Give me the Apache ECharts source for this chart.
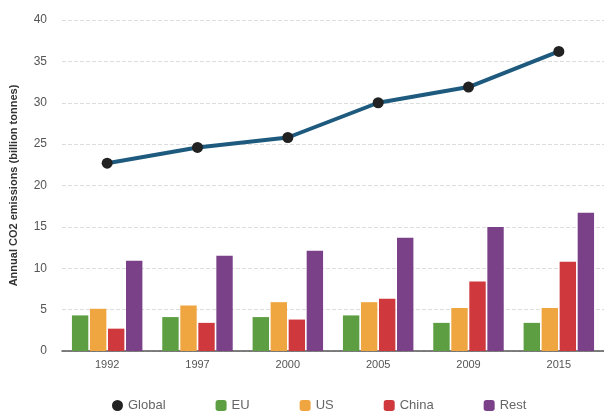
<!DOCTYPE html>
<html>
<head>
<meta charset="utf-8">
<script src="https://cdn.jsdelivr.net/npm/echarts@6/dist/echarts.min.js"></script>
<style>
  html, body { margin: 0; padding: 0; background: #fff; }
  #chart { width: 604px; height: 412px; }
</style>
</head>
<body>
<div id="chart"></div>
<script>
// 年份与各地区排放（十亿吨）
const years = ['1992', '1997', '2000', '2005', '2009', '2015'];
const globalVals = [22.7, 24.6, 25.8, 30.0, 31.9, 36.2];
const euVals = [4.3, 4.1, 4.1, 4.3, 3.4, 3.4];
const usVals = [5.1, 5.5, 5.9, 5.9, 5.2, 5.2];
const chinaVals = [2.7, 3.4, 3.8, 6.3, 8.4, 10.8];
const restVals = [10.9, 11.5, 12.1, 13.7, 15.0, 16.7];
const yTicks = [0, 5, 10, 15, 20, 25, 30, 35, 40];

(function () {
    const chart = echarts.init(document.getElementById('chart'));
    const font = 'Liberation Sans, Arial, sans-serif';

    function barSeries(name, data, color) {
        return {
            name: name,
            type: 'bar',
            data: data,
            barGap: '10%',
            barCategoryGap: '22%',
            itemStyle: { color: color },
            z: 2
        };
    }

    chart.setOption({
        animation: false,
        textStyle: { fontFamily: font },
        grid: { left: 61, right: -3, top: 20, bottom: 61 },
        legend: {
            left: 107,
            top: 394,
            itemWidth: 11,
            itemHeight: 11,
            itemGap: 50,
            itemTextGap: 7,
            textStyle: { color: '#666', fontSize: 13, fontFamily: font },
            data: [
                { name: 'Global', icon: 'circle', itemStyle: { color: '#222' } },
                'EU', 'US', 'China', 'Rest'
            ]
        },
        xAxis: {
            type: 'category',
            data: years,
            axisTick: { show: false },
            axisLine: { lineStyle: { color: '#555', width: 1.5 } },
            axisLabel: { color: '#555', fontSize: 11, margin: 8 }
        },
        yAxis: {
            type: 'value',
            min: yTicks[0],
            max: yTicks[yTicks.length - 1],
            interval: 5,
            name: 'Annual CO2 emissions (billion tonnes)',
            nameLocation: 'middle',
            nameGap: 43,
            nameTextStyle: { color: '#333', fontSize: 11, fontWeight: 'bold' },
            axisLine: { show: false },
            axisTick: { show: false },
            axisLabel: { color: '#555', fontSize: 12, margin: 15 },
            splitLine: { lineStyle: { color: '#ddd', type: 'dashed', width: 1 } }
        },
        series: [
            {
                name: 'Global',
                type: 'line',
                data: globalVals,
                symbol: 'circle',
                symbolSize: 11,
                lineStyle: { color: '#1e5a7e', width: 4 },
                itemStyle: { color: '#222' },
                z: 5
            },
            barSeries('EU', euVals, '#5c9e41'),
            barSeries('US', usVals, '#f0a640'),
            barSeries('China', chinaVals, '#cf383c'),
            barSeries('Rest', restVals, '#7a4188')
        ]
    });
})();
</script>
</body>
</html>
